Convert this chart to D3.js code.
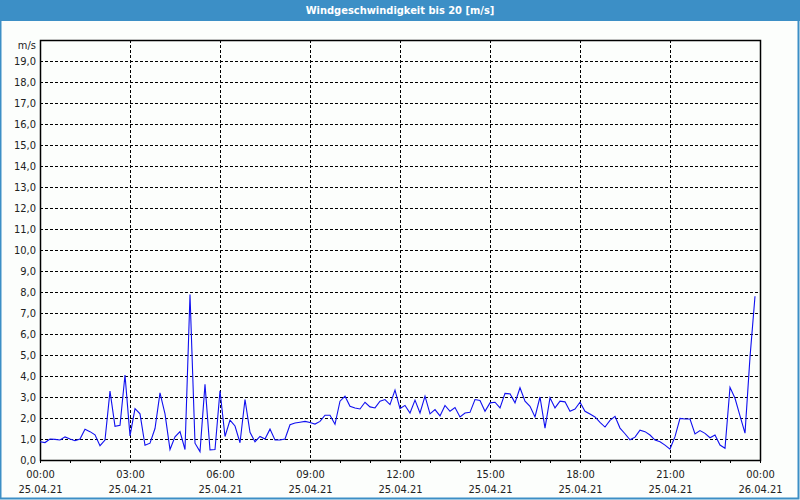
<!DOCTYPE html>
<html>
<head>
<meta charset="utf-8">
<script src="https://cdn.jsdelivr.net/npm/d3@7"></script>
<style>
  body { margin: 0; background: #fcfefc; }
  svg { display: block; }
  .lbl { font-family: "Liberation Sans Narrow", "DejaVu Sans Condensed", sans-serif; font-size: 11px; fill: #222; }
</style>
</head>
<body>
<div id="chart"></div>
<script>
// Windgeschwindigkeit, 10-Minuten-Werte vom 25.04.21 00:00 bis 23:50
var startTime = new Date(2021, 3, 25, 0, 0);
var endTime = new Date(2021, 3, 26, 0, 0);
var stepMinutes = 10;

var speeds = [
  0.87, 0.83, 1.0, 0.98, 0.95, 1.1, 1.0, 0.92, 1.0, 1.46, 1.35, 1.2,
  0.68, 0.95, 3.28, 1.6, 1.65, 4.05, 1.15, 2.45, 2.2, 0.7, 0.8, 1.5,
  3.2, 2.2, 0.5, 1.1, 1.35, 0.5, 7.88, 0.8, 0.4, 3.6, 0.48, 0.5,
  3.3, 1.12, 1.9, 1.62, 0.82, 2.88, 1.32, 0.87, 1.12, 1.0, 1.47, 0.95,
  0.95, 1.0, 1.68, 1.76, 1.8, 1.84, 1.79, 1.71, 1.84, 2.13, 2.13, 1.7,
  2.8, 3.04, 2.56, 2.48, 2.43, 2.75, 2.53, 2.48, 2.8, 2.88, 2.64, 3.33,
  2.45, 2.6, 2.24, 2.85, 2.24, 3.04, 2.2, 2.4, 2.1, 2.6, 2.32, 2.5,
  2.05, 2.24, 2.27, 2.88, 2.83, 2.32, 2.72, 2.75, 2.48, 3.17, 3.15, 2.72,
  3.44, 2.8, 2.56, 2.05, 3.0, 1.52, 2.96, 2.48, 2.8, 2.77, 2.32, 2.43,
  2.75, 2.32, 2.19, 2.05, 1.79, 1.57, 1.89, 2.08, 1.52, 1.25, 0.96, 1.09,
  1.42, 1.35, 1.19, 0.95, 0.87, 0.71, 0.52, 1.11, 1.98, 1.95, 1.95, 1.24,
  1.4, 1.27, 1.06, 1.19, 0.71, 0.56, 3.46, 2.94, 2.1, 1.28, 4.9, 7.8
];

var yTicks = [0, 1, 2, 3, 4, 5, 6, 7, 8, 9, 10, 11, 12, 13, 14, 15, 16, 17, 18, 19];
var yMax = 20;
var titleText = "Windgeschwindigkeit bis 20 [m/s]";
var unitText = "m/s";

var width = 800, height = 500;
var margin = {top: 40, right: 40, bottom: 40, left: 40};

var svg = d3.select("#chart").append("svg")
  .attr("width", width)
  .attr("height", height);

// Rahmen + Titelleiste
svg.append("rect")
  .attr("x", 0).attr("y", 0)
  .attr("width", width).attr("height", height)
  .attr("fill", "#fcfefc");
svg.append("rect")
  .attr("x", 0).attr("y", 0)
  .attr("width", width).attr("height", 21)
  .attr("fill", "#3c8fc6");
svg.append("rect")
  .attr("x", 0.5).attr("y", 0.5)
  .attr("width", width - 2).attr("height", height - 2)
  .attr("fill", "none")
  .attr("stroke", "#3c8fc6")
  .attr("stroke-width", 2);
svg.append("text")
  .attr("class", "lbl")
  .attr("x", width / 2).attr("y", 14)
  .attr("text-anchor", "middle")
  .style("fill", "#fff")
  .style("font-weight", "bold")
  .text(titleText);

var x = d3.scaleTime()
  .domain([startTime, endTime])
  .range([margin.left, width - margin.right]);

var y = d3.scaleLinear()
  .domain([0, yMax])
  .range([height - margin.bottom, margin.top]);

var data = speeds.map(function(v, i) {
  return {t: d3.timeMinute.offset(startTime, i * stepMinutes), v: v};
});

// horizontale Gitterlinien
var grid = svg.append("g");
grid.selectAll("line.h")
  .data(yTicks.filter(function(d) { return d > 0; }))
  .enter().append("line")
  .attr("x1", margin.left).attr("x2", width - margin.right)
  .attr("y1", function(d) { return Math.round(y(d)) + 0.5; })
  .attr("y2", function(d) { return Math.round(y(d)) + 0.5; })
  .attr("stroke", "#000")
  .attr("stroke-dasharray", "3,2");

// vertikale Gitterlinien alle 3 Stunden
var gridTimes = d3.timeHour.every(3).range(d3.timeHour.offset(startTime, 3), endTime);
grid.selectAll("line.v")
  .data(gridTimes)
  .enter().append("line")
  .attr("y1", margin.top).attr("y2", height - margin.bottom)
  .attr("x1", function(d) { return Math.round(x(d)) + 0.5; })
  .attr("x2", function(d) { return Math.round(x(d)) + 0.5; })
  .attr("stroke", "#000")
  .attr("stroke-dasharray", "3,2");

// y-Achse Beschriftung
var yAxis = d3.axisLeft(y)
  .tickValues(yTicks)
  .tickSize(0)
  .tickPadding(4)
  .tickFormat(function(d) { return d3.format(".1f")(d).replace(".", ","); });

var gy = svg.append("g")
  .attr("transform", "translate(" + margin.left + ",0)")
  .call(yAxis);
gy.select(".domain").remove();
gy.selectAll("text").attr("class", "lbl").attr("font-family", null).attr("font-size", null);

svg.append("text")
  .attr("class", "lbl")
  .attr("x", margin.left - 4)
  .attr("y", y(yMax) + 9)
  .attr("text-anchor", "end")
  .text(unitText);

// x-Achse: Ticks jede Stunde, Beschriftung alle 3 Stunden
var xAxis = d3.axisBottom(x)
  .ticks(d3.timeHour.every(1))
  .tickSize(3)
  .tickPadding(7)
  .tickFormat(function(d) {
    return d.getHours() % 3 === 0 ? d3.timeFormat("%H:%M")(d) : "";
  });

var gx = svg.append("g")
  .attr("transform", "translate(0," + (height - margin.bottom) + ")")
  .call(xAxis);
gx.select(".domain").remove();
gx.selectAll("line").attr("stroke", "#000");
gx.selectAll("text").attr("class", "lbl").attr("font-family", null).attr("font-size", null);
gx.selectAll(".tick").filter(function(d) { return d.getHours() % 3 === 0; })
  .append("text")
  .attr("class", "lbl")
  .attr("y", 25)
  .attr("dy", "0.71em")
  .attr("text-anchor", "middle")
  .text(function(d) { return d3.timeFormat("%d.%m.%y")(d); });

// Plotrahmen
svg.append("rect")
  .attr("x", margin.left + 0.5).attr("y", margin.top + 0.5)
  .attr("width", width - margin.left - margin.right)
  .attr("height", height - margin.top - margin.bottom)
  .attr("fill", "none")
  .attr("stroke", "#000")
  .attr("stroke-width", 1.5);

// Messkurve
var line = d3.line()
  .x(function(d) { return x(d.t); })
  .y(function(d) { return y(d.v); });

svg.append("path")
  .datum(data)
  .attr("d", line)
  .attr("fill", "none")
  .attr("stroke", "#1010f0")
  .attr("stroke-width", 1.1);
</script>
</body>
</html>
